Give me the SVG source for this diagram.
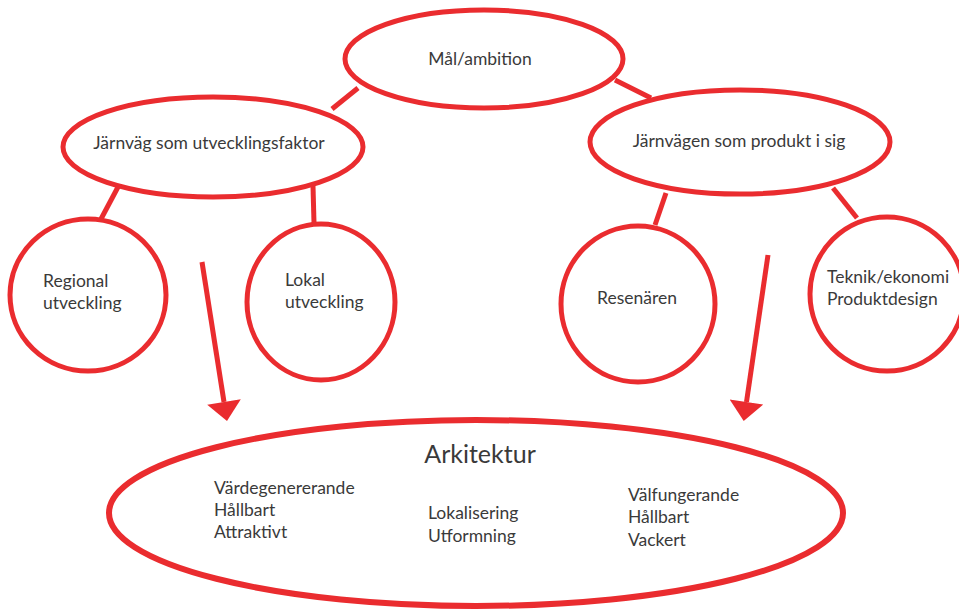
<svg xmlns="http://www.w3.org/2000/svg" width="959" height="609" viewBox="0 0 959 609">
<style>
.shape{fill:#fff;stroke:#ea2c2f;stroke-width:5}
.big{stroke-width:6}
.conn{stroke:#ea2c2f;stroke-width:5;fill:none}
.t{font-family:Lato,"Open Sans","Liberation Sans",sans-serif;font-size:17.5px;fill:#3a3a3a}
.c{text-anchor:middle}
.h{font-size:25px}
</style>
<defs>
<marker id="ah" markerUnits="userSpaceOnUse" markerWidth="20" markerHeight="34" refX="0" refY="15" orient="auto" viewBox="0 0 17 30">
<path d="M0,0 L17,15 L0,30 Z" fill="#ea2c2f"/>
</marker>
</defs>
<g id="connectors">
<line class="conn" x1="358" y1="88" x2="332" y2="109"/>
<line class="conn" x1="615" y1="80" x2="651" y2="98"/>
<line class="conn" x1="118" y1="187" x2="101" y2="219"/>
<line class="conn" x1="313" y1="186" x2="314" y2="223"/>
<line class="conn" x1="666" y1="193" x2="655" y2="225"/>
<line class="conn" x1="833" y1="188" x2="857" y2="218"/>
<line class="conn" x1="202" y1="262" x2="224" y2="402" marker-end="url(#ah)"/>
<line class="conn" x1="768" y1="255" x2="746.5" y2="402" marker-end="url(#ah)"/>
</g>
<g id="mal">
<ellipse class="shape" cx="484" cy="59" rx="139" ry="49"/>
<text class="t c" x="480" y="65">Mål/ambition</text>
</g>
<g id="jarnvag-utveckling">
<ellipse class="shape" cx="213" cy="147" rx="150" ry="50"/>
<text class="t c" x="209" y="149">Järnväg som utvecklingsfaktor</text>
</g>
<g id="jarnvag-produkt">
<ellipse class="shape" cx="740" cy="142" rx="150" ry="52"/>
<text class="t c" x="739" y="147">Järnvägen som produkt i sig</text>
</g>
<g id="regional">
<ellipse class="shape" cx="88" cy="295" rx="78" ry="76"/>
<text class="t" x="43" y="287">Regional</text>
<text class="t" x="43" y="309">utveckling</text>
</g>
<g id="lokal">
<ellipse class="shape" cx="321" cy="302" rx="74" ry="78"/>
<text class="t" x="285" y="286">Lokal</text>
<text class="t" x="285" y="308">utveckling</text>
</g>
<g id="resenaren">
<ellipse class="shape" cx="638" cy="304" rx="77" ry="78"/>
<text class="t" x="597" y="304">Resenären</text>
</g>
<g id="teknik">
<ellipse class="shape" cx="887" cy="294" rx="77" ry="77"/>
<text class="t" x="827" y="283">Teknik/ekonomi</text>
<text class="t" x="827" y="305">Produktdesign</text>
</g>
<g id="arkitektur">
<ellipse class="shape big" cx="476" cy="513" rx="367" ry="93"/>
<text class="t c h" x="480" y="463">Arkitektur</text>
<text class="t" x="214" y="494">Värdegenererande</text>
<text class="t" x="214" y="516">Hållbart</text>
<text class="t" x="214" y="538">Attraktivt</text>
<text class="t" x="428" y="519">Lokalisering</text>
<text class="t" x="428" y="542">Utformning</text>
<text class="t" x="628" y="501">Välfungerande</text>
<text class="t" x="628" y="523">Hållbart</text>
<text class="t" x="628" y="546">Vackert</text>
</g>
</svg>
